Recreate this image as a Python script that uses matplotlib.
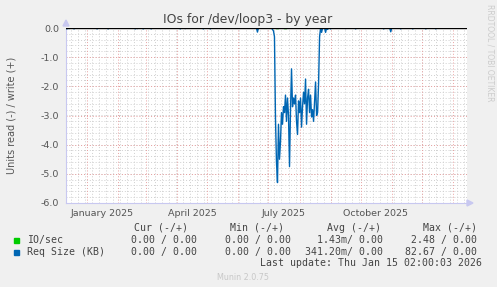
import matplotlib
matplotlib.use("Agg")
import matplotlib.pyplot as plt
import numpy as np
import pandas as pd

# ---------------- data ----------------
title = "IOs for /dev/loop3 - by year"
ylabel = "Units read (-) / write (+)"
x_start = "2024-12-11"
x_end = "2026-01-15 02:00"

# Req Size (KB), read side (negative) - active block, one value per day
req_block_start = "2025-07-05"
req_block = [-0.05, -0.10, -0.30, -3.10, -4.60, -5.30, -3.30, -4.50, -3.90, -2.90,
             -3.30, -2.70, -2.90, -2.30, -3.20, -2.40, -3.00, -4.75, -2.80, -1.40,
             -2.70, -2.40, -2.60, -2.30, -3.20, -3.65, -2.50, -2.90, -2.40, -3.40,
             -2.70, -2.20, -2.60, -1.75, -3.30, -2.40, -2.10, -2.90, -2.30, -3.05,
             -2.80, -3.20, -2.50, -1.85, -3.00, -2.90, -1.90, -0.30, 0.00, -0.15]
# small read dips elsewhere in the year
dip_dates = ["2024-12-12", "2024-12-14", "2024-12-19", "2025-01-11", "2025-01-22",
             "2025-02-18", "2025-02-20", "2025-02-26", "2025-03-06", "2025-04-04",
             "2025-04-09", "2025-04-27", "2025-05-04", "2025-06-20", "2025-08-27",
             "2025-08-29", "2025-09-01", "2025-09-16", "2025-09-26", "2025-10-24",
             "2025-10-31", "2025-11-10", "2025-11-22", "2025-12-05", "2025-12-15"]
dip_vals = [-0.03, -0.02, -0.03, -0.03, -0.03, -0.03, -0.02, -0.03, -0.03, -0.03,
            -0.02, -0.03, -0.03, -0.14, -0.15, -0.05, -0.03, -0.02, -0.03, -0.03,
            -0.13, -0.03, -0.03, -0.03, -0.03]
# IO/sec read side (tiny values, visible only in active period)
io_dates = ["2025-07-09", "2025-07-10", "2025-07-11", "2025-07-17", "2025-07-18", "2025-07-19"]
io_vals = [-0.02, -0.02, -0.02, -0.02, -0.02, -0.02]

month_labels = ["January 2025", "April 2025", "July 2025", "October 2025"]
month_label_dates = ["2025-01-16", "2025-04-16", "2025-07-16", "2025-10-16"]
ytick_vals = [0.0, -1.0, -2.0, -3.0, -4.0, -5.0, -6.0]

legend_header = ["Cur (-/+)", "Min (-/+)", "Avg (-/+)", "Max (-/+)"]
legend_names = ["IO/sec", "Req Size (KB)"]
legend_cur = ["0.00 / 0.00", "0.00 / 0.00"]
legend_min = ["0.00 / 0.00", "0.00 / 0.00"]
legend_avg = ["1.43m/ 0.00", "341.20m/ 0.00"]
legend_max = ["2.48 / 0.00", "82.67 / 0.00"]
last_update = "Last update: Thu Jan 15 02:00:03 2026"
munin_ver = "Munin 2.0.75"

# ---------------- build series ----------------
days = pd.date_range(x_start, "2026-01-15", freq="D")
req = pd.Series(0.0, index=days)
req[pd.to_datetime(dip_dates)] = dip_vals
blk_idx = pd.date_range(req_block_start, periods=len(req_block), freq="D")
req[blk_idx] = req_block
io = pd.Series(0.0, index=days)
io[pd.to_datetime(io_dates)] = io_vals

# ---------------- figure ----------------
W, H = 497, 287
fig = plt.figure(figsize=(W / 100, H / 100), dpi=100, facecolor="#f0f0f0")
L, R, T, B = 66, 467, 28, 203
ax = fig.add_axes([L / W, 1 - B / H, (R - L) / W, (B - T) / H])
ax.set_facecolor("white")

x0 = pd.Timestamp(x_start)
x1 = pd.Timestamp(x_end)
ax.set_xlim(x0, x1)
ax.set_ylim(-6.0, 0.0)

# grid
minor_c = "#cfcfcf"
major_c = "#e8a0a0"
for v in np.arange(-6.0, 0.001, 0.2):
    ax.axhline(v, color=minor_c, lw=0.7, ls=(0, (1, 2)), zorder=0)
for v in ytick_vals:
    ax.axhline(v, color=major_c, lw=0.7, ls=(0, (1, 2)), zorder=0.5)
for d in pd.date_range(x0, x1, freq="W-MON"):
    ax.axvline(d, color=minor_c, lw=0.7, ls=(0, (1, 2)), zorder=0)
for d in pd.date_range("2025-01-01", x1, freq="MS"):
    ax.axvline(d, color=major_c, lw=0.7, ls=(0, (1, 2)), zorder=0.5)

# data
ax.plot(io.index, io.values, color="#00cc00", lw=1.0, zorder=2)
ax.plot(req.index, req.values, color="#0066b3", lw=1.0, zorder=3)
ax.axhline(0.0, color="black", lw=1.0, zorder=4)

# axes styling
for s in ["top", "right"]:
    ax.spines[s].set_visible(False)
for s in ["left", "bottom"]:
    ax.spines[s].set_color("#c8c8f0")
    ax.spines[s].set_linewidth(0.8)
ax.set_yticks(ytick_vals)
ax.set_yticklabels([f"{v:.1f}" for v in ytick_vals])
ax.set_xticks(pd.to_datetime(month_label_dates))
ax.set_xticklabels(month_labels)
ax.tick_params(axis="both", length=0, labelsize=6.8, colors="#555555", pad=4)
ax.tick_params(axis="y", pad=5)

# arrows on axes
fig.patches.append(plt.Polygon([[L / W - 3 / W, 1 - 26 / H], [L / W + 3 / W, 1 - 26 / H],
                                [L / W, 1 - 20 / H]], closed=True,
                               transform=fig.transFigure, color="#c8c8f0"))
fig.patches.append(plt.Polygon([[467 / W, 1 - 200 / H], [467 / W, 1 - 206 / H],
                                [473 / W, 1 - 203 / H]], closed=True,
                               transform=fig.transFigure, color="#c8c8f0"))

# texts
def ft(x, y, s, **kw):
    fig.text(x / W, 1 - y / H, s, **kw)

ft(248, 19, title, ha="center", va="center", fontsize=8.9, color="#444444")
ft(12, 115, ylabel, ha="center", va="center", rotation=90, fontsize=7.0, color="#555555")
ft(490, 53, "RRDTOOL / TOBI OETIKER", ha="center", va="center", rotation=270,
   fontsize=5.5, color="#cccccc")

mono = dict(family="DejaVu Sans Mono", fontsize=7.1, color="#444444", va="center")
hdr_x = [134, 230, 327, 423]
for hx, h in zip(hdr_x, legend_header):
    ft(hx, 228, h, ha="left", **mono)
colors = ["#00cc00", "#0066b3"]
rows_y = [240, 252]
for i in range(2):
    y = rows_y[i]
    fig.patches.append(plt.Rectangle((14 / W, 1 - (y + 3) / H), 5 / W, 5 / H,
                                     transform=fig.transFigure, color=colors[i]))
    ft(27, y, legend_names[i], ha="left", **mono)
    ft(197, y, legend_cur[i], ha="right", **mono)
    ft(291, y, legend_min[i], ha="right", **mono)
    ft(383, y, legend_avg[i], ha="right", **mono)
    ft(477, y, legend_max[i], ha="right", **mono)
ft(482, 263, last_update, ha="right", **mono)
ft(243, 277, munin_ver, ha="center", va="center", fontsize=5.8, color="#c8c8c8")

fig.savefig("out.png", dpi=100, facecolor=fig.get_facecolor())
